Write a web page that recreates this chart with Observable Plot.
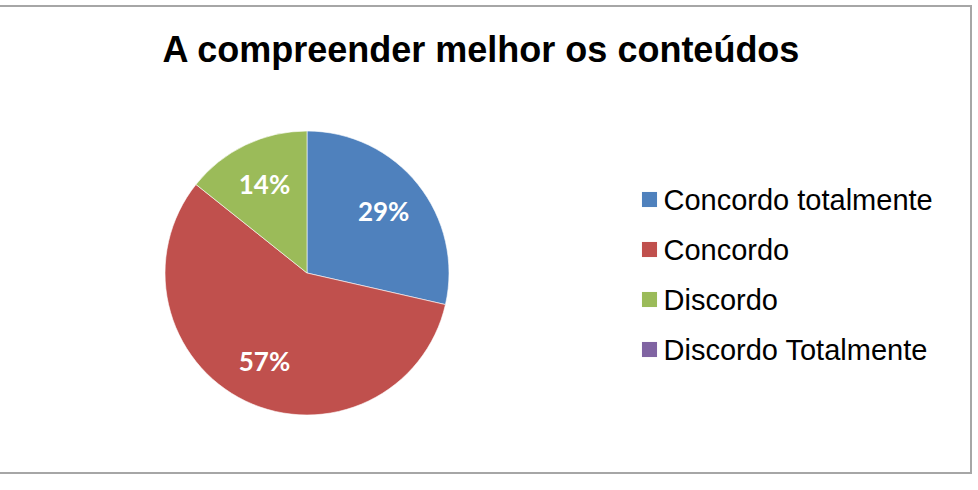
<!DOCTYPE html>
<html>
<head>
<meta charset="utf-8">
<script src="https://cdn.jsdelivr.net/npm/d3@7"></script>
<script src="https://cdn.jsdelivr.net/npm/@observablehq/plot@0.6"></script>
<style>
  html, body { margin: 0; padding: 0; background: #fff; }
  #wrap { position: relative; width: 978px; height: 490px; overflow: hidden; }
  #frame { position: absolute; left: -4px; top: 5px; width: 976px; height: 469px; border: 2px solid #a6a6a6; box-sizing: border-box; }
  #title { position: absolute; left: 0; top: 30px; width: 962px; text-align: center;
    font: bold 36px "Liberation Sans", Arial, sans-serif; color: #000; line-height: 40px; }
  #chart { position: absolute; left: 0; top: 0; }
</style>
</head>
<body>
<div id="wrap">
  <div id="frame"></div>
  <div id="title">A compreender melhor os conteúdos</div>
  <div id="chart"></div>
</div>
<script>
const categories = ["Concordo totalmente", "Concordo", "Discordo", "Discordo Totalmente"];
const values = [2, 4, 1, 0];
const colors = ["#4F81BD", "#C0504D", "#9BBB59", "#8064A2"];

const data = categories.map((c, i) => ({category: c, value: values[i]}));
const total = d3.sum(values);

const cx = 307, cy = 273, R = 142, labelR = 98;

function pieMark(index, scales) {
  const color = (scales && scales.color) ? scales.color : d3.scaleOrdinal(categories, colors);
  const g = d3.create("svg:g").attr("transform", `translate(${cx},${cy})`);
  const arcs = d3.pie().sort(null).value(d => d.value)(data);
  const arc = d3.arc().innerRadius(0).outerRadius(R);
  const labelArc = d3.arc().innerRadius(labelR).outerRadius(labelR);
  const shown = arcs.filter(a => a.data.value > 0);
  g.selectAll("path").data(shown).join("path")
    .attr("d", arc)
    .attr("fill", a => color(a.data.category))
    .attr("stroke", "#fff").attr("stroke-width", 0.6);
  g.selectAll("text").data(shown).join("text")
    .attr("transform", a => `translate(${labelArc.centroid(a)})`)
    .attr("text-anchor", "middle").attr("dy", "0.36em")
    .attr("fill", "#fff")
    .style("font", "bold 26px Lato, sans-serif")
    .text(a => Math.round(a.data.value / total * 100) + "%");
  return g.node();
}

const plot = Plot.plot({
  width: 978,
  height: 490,
  margin: 0,
  style: {background: "transparent", overflow: "visible"},
  x: {axis: null, domain: [0, 978], range: [0, 978]},
  y: {type: "point", axis: null, domain: categories, range: [198, 350], padding: 0},
  color: {domain: categories, range: colors},
  marks: [
    pieMark,
    Plot.dot(data, {x: () => 649, y: "category", symbol: "square", r: 8.5, fill: "category", stroke: null}),
    Plot.text(data, {x: () => 663, y: "category", text: "category", textAnchor: "start", fill: "#000",
      fontSize: 29, fontFamily: "Liberation Sans, Arial, sans-serif", dy: 1})
  ]
});
document.getElementById("chart").appendChild(plot);
</script>
</body>
</html>
